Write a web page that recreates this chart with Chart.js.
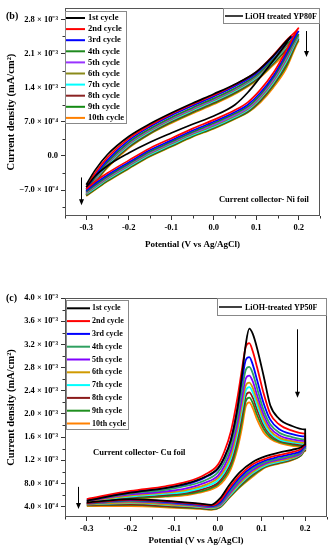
<!DOCTYPE html>
<html>
<head>
<meta charset="utf-8">
<script src="https://cdn.jsdelivr.net/npm/chart.js@4.4.1/dist/chart.umd.min.js"></script>
<style>
  body { margin: 0; background: #fff; }
  canvas { display: block; }
</style>
</head>
<body>
<canvas id="chartB" width="335" height="280"></canvas>
<canvas id="chartC" width="335" height="270"></canvas>
<script>
// ---- data (current in units of 1e-4 mA/cm2) ----
const cycleNames = ['1st cycle', '2nd cycle', '3rd cycle', '4th cycle', '5th cycle',
                    '6th cycle', '7th cycle', '8th cycle', '9th cycle', '10th cycle'];
const colorsB = ['#000000', '#ff0000', '#0000ff', '#1f8a1f', '#9933ff',
                 '#8a8a1a', '#00ffff', '#8b2323', '#138a13', '#ff8000'];
const colorsC = ['#000000', '#ff0000', '#0000ff', '#2fa060', '#8000ff',
                 '#d09a00', '#00ffff', '#8b1a1a', '#1f8f1f', '#ff8000'];

const xTicks = [-0.3, -0.2, -0.1, 0, 0.1, 0.2];
const xLabels = ['-0.3', '-0.2', '-0.1', '0.0', '0.1', '0.2'];
const xMinor = [-0.35, -0.25, -0.15, -0.05, 0.05, 0.15, 0.25];

// panel (b): Ni foil
const sampleNameB = 'LiOH treated YP80F';
const potUpB = [-0.3, -0.28, -0.25, -0.2, -0.15, -0.1, -0.05, 0, 0.05, 0.1, 0.14, 0.17, 0.2];
const potDownB = [0.17, 0.14, 0.11, 0.08, 0.05, 0, -0.05, -0.1, -0.15, -0.2, -0.25, -0.28, -0.3];
const vertexB = [0.182, 0.2, 0.2, 0.2, 0.2, 0.2, 0.2, 0.2, 0.2, 0.2];
const curUpB = [
  [-5.9, -3.0, 0.3, 4.0, 6.6, 8.8, 10.8, 12.7, 14.7, 17.2, 20.5, 23.5, 24.6],
  [-6.4, -3.6, -0.3, 3.6, 6.3, 8.6, 10.6, 12.5, 14.6, 17.2, 20.6, 23.6, 26.3],
  [-6.8, -4.1, -0.8, 3.2, 6.0, 8.3, 10.3, 12.2, 14.3, 16.9, 20.3, 23.3, 25.6],
  [-7.1, -4.5, -1.2, 2.8, 5.6, 7.9, 9.9, 11.8, 13.9, 16.5, 19.8, 22.8, 25.0],
  [-7.3, -4.7, -1.4, 2.6, 5.4, 7.7, 9.7, 11.6, 13.7, 16.4, 19.7, 22.7, 24.9],
  [-7.5, -4.9, -1.6, 2.4, 5.2, 7.5, 9.5, 11.4, 13.5, 16.2, 19.5, 22.4, 24.7],
  [-7.7, -5.1, -1.8, 2.2, 5.0, 7.3, 9.3, 11.2, 13.3, 16.0, 19.3, 22.2, 24.4],
  [-7.8, -5.3, -2.0, 2.0, 4.8, 7.1, 9.1, 11.0, 13.1, 15.8, 19.1, 21.9, 24.1],
  [-8.0, -5.5, -2.2, 1.8, 4.6, 6.9, 8.9, 10.8, 12.9, 15.6, 18.9, 21.6, 23.9],
  [-8.1, -5.6, -2.4, 1.6, 4.5, 6.7, 8.7, 10.6, 12.7, 15.4, 18.6, 21.0, 23.6]
];
const curDownB = [
  [23.0, 19.5, 16.2, 13.0, 10.5, 8.2, 6.5, 4.7, 2.8, 0.6, -2.0, -4.2, -6.4],
  [21.5, 17.0, 13.6, 11.0, 9.4, 7.4, 5.6, 3.6, 1.6, -0.9, -3.5, -5.3, -6.8],
  [20.9, 16.4, 13.0, 10.5, 9.0, 7.0, 5.2, 3.2, 1.2, -1.3, -3.9, -5.7, -7.1],
  [20.4, 16.0, 12.6, 10.1, 8.7, 6.7, 4.9, 2.9, 0.9, -1.6, -4.2, -6.0, -7.3],
  [20.0, 15.6, 12.3, 9.8, 8.4, 6.4, 4.7, 2.7, 0.7, -1.8, -4.4, -6.2, -7.5],
  [19.6, 15.3, 12.0, 9.6, 8.2, 6.2, 4.5, 2.5, 0.5, -2.0, -4.6, -6.4, -7.7],
  [19.2, 15.0, 11.8, 9.4, 8.0, 6.0, 4.3, 2.3, 0.3, -2.2, -4.8, -6.6, -7.8],
  [18.8, 14.7, 11.5, 9.2, 7.9, 5.9, 4.2, 2.2, 0.2, -2.3, -4.9, -6.7, -8.0],
  [18.3, 14.4, 11.3, 9.0, 7.7, 5.7, 4.0, 2.0, 0.0, -2.5, -5.1, -6.9, -8.1],
  [17.8, 14.0, 11.0, 8.9, 7.6, 5.6, 3.9, 1.9, -0.1, -2.6, -5.2, -7.0, -8.2]
];
const yTicksB = [-7, 0, 7, 14, 21, 28];
const yLabelsB = ['\u22127.0 \u00d7 10\u207b\u2074', '0.0', '7.0 \u00d7 10\u207b\u2074',
                  '1.4 \u00d7 10\u207b\u00b3', '2.1 \u00d7 10\u207b\u00b3', '2.8 \u00d7 10\u207b\u00b3'];
const yMinorB = [-10.5, -3.5, 3.5, 10.5, 17.5, 24.5];

// panel (c): Cu foil
const sampleNameC = 'LiOH-treated YP50F';
const potFwdC = [-0.3, -0.2, -0.1, -0.04, -0.015, 0.005, 0.025, 0.05, 0.08, 0.11, 0.14, 0.17, 0.19, 0.2];
const potRevC = [0.2, 0.17, 0.14, 0.12, 0.105, 0.09, 0.08, 0.072, 0.064, 0.055, 0.045, 0.03, 0.015, 0,
                 -0.03, -0.07, -0.12, -0.2, -0.3];
const curFwdC = [
  [4.7, 5.3, 4.9, 4.5, 4.3, 5.4, 7.6, 9.9, 11.7, 12.7, 13.3, 13.8, 14.2, 14.7],
  [4.6, 5.2, 4.8, 4.4, 4.2, 5.0, 7.1, 9.4, 11.3, 12.3, 12.9, 13.4, 13.9, 14.6],
  [4.6, 5.1, 4.7, 4.3, 4.1, 4.7, 6.7, 9.0, 10.9, 12.0, 12.6, 13.1, 13.6, 14.4],
  [4.5, 5.0, 4.6, 4.2, 4.0, 4.5, 6.4, 8.6, 10.6, 11.7, 12.3, 12.8, 13.4, 14.2],
  [4.5, 4.9, 4.5, 4.1, 3.9, 4.3, 6.1, 8.3, 10.3, 11.5, 12.1, 12.6, 13.2, 14.1],
  [4.4, 4.7, 4.3, 4.0, 3.8, 4.2, 5.9, 8.0, 10.0, 11.3, 11.9, 12.4, 13.1, 14.0],
  [4.4, 4.6, 4.2, 3.9, 3.7, 4.1, 5.7, 7.8, 9.8, 11.1, 11.7, 12.3, 13.0, 13.9],
  [4.3, 4.4, 4.0, 3.8, 3.6, 4.0, 5.6, 7.6, 9.6, 11.0, 11.6, 12.2, 12.9, 13.8],
  [4.2, 4.3, 3.9, 3.7, 3.5, 3.9, 5.5, 7.4, 9.4, 10.9, 11.5, 12.1, 12.8, 13.7],
  [4.1, 4.1, 3.8, 3.6, 3.45, 3.9, 5.4, 7.3, 9.2, 10.8, 11.4, 12.0, 12.8, 13.6]
];
const curRevC = [
  [17.3, 17.9, 19.2, 21.5, 26.5, 31.3, 33.8, 34.7, 32.0, 26.5, 21.0, 15.5, 12.5, 10.6, 9.1, 8.0, 7.2, 6.4, 5.0],
  [16.6, 17.1, 18.2, 20.0, 23.5, 28.0, 30.8, 32.2, 31.6, 27.6, 22.8, 17.0, 13.5, 11.2, 9.5, 8.3, 7.5, 6.7, 5.3],
  [16.1, 16.5, 17.4, 19.0, 21.8, 25.8, 28.5, 29.8, 29.3, 25.6, 21.0, 15.6, 12.5, 10.5, 9.0, 7.9, 7.2, 6.5, 5.2],
  [15.6, 16.0, 16.8, 18.2, 20.6, 24.4, 27.0, 28.1, 27.6, 24.0, 19.6, 14.6, 11.7, 9.9, 8.5, 7.6, 6.9, 6.3, 5.1],
  [15.3, 15.6, 16.3, 17.6, 19.8, 23.2, 25.6, 26.6, 26.1, 22.6, 18.4, 13.7, 11.0, 9.3, 8.1, 7.2, 6.6, 6.1, 5.0],
  [15.0, 15.3, 15.9, 17.1, 19.1, 22.3, 24.5, 25.4, 24.9, 21.5, 17.4, 12.9, 10.4, 8.9, 7.7, 6.9, 6.4, 5.9, 4.9],
  [14.8, 15.1, 15.6, 16.7, 18.5, 21.5, 23.7, 24.6, 24.0, 20.6, 16.6, 12.3, 9.9, 8.5, 7.4, 6.6, 6.2, 5.7, 4.8],
  [14.6, 14.9, 15.4, 16.4, 18.0, 20.7, 22.8, 23.7, 23.1, 19.6, 15.7, 11.6, 9.5, 8.1, 7.1, 6.4, 6.0, 5.6, 4.7],
  [14.4, 14.7, 15.2, 16.0, 17.4, 19.8, 21.9, 22.8, 22.2, 18.6, 14.8, 11.0, 9.0, 7.8, 6.8, 6.2, 5.8, 5.4, 4.6],
  [14.3, 14.5, 15.0, 15.7, 16.8, 19.0, 21.0, 22.0, 21.3, 17.5, 14.0, 10.5, 8.6, 7.5, 6.6, 6.0, 5.7, 5.3, 4.5]
];
const yTicksC = [4, 8, 12, 16, 20, 24, 28, 32, 36, 40];
const yLabelsC = ['4.0 \u00d7 10\u207b\u2074', '8.0 \u00d7 10\u207b\u2074', '1.2 \u00d7 10\u207b\u00b3',
                  '1.6 \u00d7 10\u207b\u00b3', '2.0 \u00d7 10\u207b\u00b3', '2.4 \u00d7 10\u207b\u00b3',
                  '2.8 \u00d7 10\u207b\u00b3', '3.2 \u00d7 10\u207b\u00b3', '3.6 \u00d7 10\u207b\u00b3',
                  '4.0 \u00d7 10\u207b\u00b3'];
const yMinorC = [6, 10, 14, 18, 22, 26, 30, 34, 38];

// ---- chart setup ----
const FONT = '"Liberation Serif", "Times New Roman", serif';
Chart.defaults.font.family = FONT;
Chart.defaults.font.weight = 'bold';
Chart.defaults.color = '#000';

function line(ctx, x0, y0, x1, y1) {
  ctx.beginPath(); ctx.moveTo(x0, y0); ctx.lineTo(x1, y1); ctx.stroke();
}

// frame, minor ticks, legend boxes, arrows and notes
const decorations = {
  id: 'decorations',
  afterDatasetsDraw(chart, args, o) {
    const {ctx, chartArea: a, scales: {x, y}} = chart;
    ctx.save();
    ctx.strokeStyle = '#555';
    ctx.lineWidth = 1;
    ctx.strokeRect(Math.round(a.left) + 0.5, Math.round(a.top) + 0.5,
                   Math.round(a.right - a.left) - 1, Math.round(a.bottom - a.top) - 1);
    ctx.strokeStyle = '#333';
    o.xMinor.forEach(v => {
      const px = Math.round(x.getPixelForValue(v)) + 0.5;
      line(ctx, px, a.bottom, px, a.bottom + 2.5);
    });
    o.yMinor.forEach(v => {
      const py = Math.round(y.getPixelForValue(v)) + 0.5;
      line(ctx, a.left - 2.5, py, a.left, py);
    });

    // cycle legend
    const L = o.legend;
    const bx = Math.round(a.left) + L.dx, by = Math.round(a.top) + L.dy;
    ctx.fillStyle = '#fff';
    ctx.fillRect(bx, by, L.w, L.h);
    ctx.strokeStyle = '#888';
    ctx.strokeRect(bx + 0.5, by + 0.5, L.w, L.h);
    ctx.font = 'bold ' + L.size + 'px ' + FONT;
    ctx.textBaseline = 'middle';
    ctx.textAlign = 'left';
    chart.data.datasets.forEach((ds, i) => {
      const ry = by + L.first + i * L.row;
      ctx.strokeStyle = ds.borderColor;
      ctx.lineWidth = 2;
      line(ctx, bx + 1, ry, bx + 1 + L.len, ry);
      ctx.fillStyle = '#000';
      ctx.fillText(ds.label, bx + L.textX, ry);
    });

    // sample legend
    const S = o.sample;
    const sx = Math.round(a.right) - S.w, sy = Math.round(a.top) + S.dy;
    ctx.fillStyle = '#fff';
    ctx.fillRect(sx, sy, S.w, S.h);
    ctx.strokeStyle = '#888';
    ctx.lineWidth = 1;
    ctx.strokeRect(sx + 0.5, sy + 0.5, S.w - 1, S.h);
    ctx.strokeStyle = '#000';
    ctx.lineWidth = 1.5;
    line(ctx, sx + 2, sy + S.h / 2 + 0.5, sx + 2 + S.len, sy + S.h / 2 + 0.5);
    ctx.fillStyle = '#000';
    ctx.font = 'bold ' + S.size + 'px ' + FONT;
    ctx.fillText(S.text, sx + S.textX, sy + S.h / 2 + 1);

    // arrows
    ctx.strokeStyle = '#000';
    ctx.fillStyle = '#000';
    ctx.lineWidth = 1;
    o.arrows.forEach(ar => {
      const px = Math.round(x.getPixelForValue(ar.x)) + 0.5;
      const p0 = y.getPixelForValue(ar.from), p1 = y.getPixelForValue(ar.to);
      line(ctx, px, p0, px, p1 - 5);
      ctx.beginPath();
      ctx.moveTo(px - 2.5, p1 - 6); ctx.lineTo(px + 2.5, p1 - 6); ctx.lineTo(px, p1);
      ctx.closePath(); ctx.fill();
    });

    // note
    ctx.font = 'bold ' + o.note.size + 'px ' + FONT;
    ctx.textAlign = 'center';
    ctx.fillText(o.note.text, x.getPixelForValue(o.note.x), y.getPixelForValue(o.note.y));

    // panel tag
    ctx.textAlign = 'left';
    ctx.font = 'bold 10px ' + FONT;
    ctx.fillText(o.tag.text, o.tag.x, o.tag.y);
    ctx.restore();
  }
};

function makeScales(p) {
  return {
    x: {
      type: 'linear', min: -0.35, max: 0.25,
      afterBuildTicks: s => { s.ticks = xTicks.map(v => ({value: v})); },
      afterFit: s => { s.height = p.xHeight; },
      ticks: { callback: (v, i) => xLabels[i], font: {size: 8.5}, padding: 3,
               maxRotation: 0, autoSkip: false },
      grid: { drawOnChartArea: false, drawTicks: true, tickLength: 4, tickColor: '#333' },
      border: { display: false },
      title: { display: true, text: 'Potential (V vs Ag/AgCl)', font: {size: 9},
               padding: {top: 0, bottom: p.titlePad} }
    },
    y: {
      type: 'linear', min: p.yMin, max: p.yMax,
      afterBuildTicks: s => { s.ticks = p.yTicks.map(v => ({value: v})); },
      afterFit: s => { s.width = 65; },
      ticks: { callback: (v, i) => p.yLabels[i], font: {size: 8.5}, padding: 3, autoSkip: false },
      grid: { drawOnChartArea: false, drawTicks: true, tickLength: 4, tickColor: '#333' },
      border: { display: false },
      title: { display: true, text: 'Current density (mA/cm\u00b2)', font: {size: 10.5},
               padding: {top: 5, bottom: 0} }
    }
  };
}

const datasetsB = cycleNames.map((name, i) => ({
  label: name,
  data: potUpB.map((p, k) => ({x: k === potUpB.length - 1 ? vertexB[i] : p, y: curUpB[i][k]}))
    .concat(potDownB.map((p, k) => ({x: p, y: curDownB[i][k]}))),
  borderColor: colorsB[i],
  borderWidth: 1.7,
  pointRadius: 0,
  cubicInterpolationMode: 'monotone',
  fill: false
}));

const datasetsC = cycleNames.map((name, i) => ({
  label: name,
  data: potFwdC.map((p, k) => ({x: p, y: curFwdC[i][k]}))
    .concat(potRevC.map((p, k) => ({x: p, y: curRevC[i][k]}))),
  borderColor: colorsC[i],
  borderWidth: 1.8,
  pointRadius: 0,
  cubicInterpolationMode: 'monotone',
  fill: false
}));

new Chart(document.getElementById('chartB'), {
  type: 'line',
  data: { datasets: datasetsB },
  options: {
    responsive: false,
    animation: false,
    layout: { padding: {top: 4, right: 15, left: 0, bottom: 0} },
    scales: makeScales({xHeight: 64, titlePad: 29.6, yMin: -12.3, yMax: 30.3,
                        yTicks: yTicksB, yLabels: yLabelsB}),
    plugins: {
      legend: { display: false },
      tooltip: { enabled: false },
      decorations: {
        xMinor: xMinor, yMinor: yMinorB,
        legend: {dx: 0, dy: 3, w: 61, h: 112, first: 7, row: 11.1, len: 19, textX: 23, size: 8.5},
        sample: {dy: 0, w: 97, h: 15, len: 18, textX: 22, size: 8, text: sampleNameB},
        arrows: [{x: -0.312, from: -4.4, to: -10.1}, {x: 0.218, from: 25.6, to: 20.3}],
        note: {text: 'Current collector- Ni foil', x: 0.118, y: -8.9, size: 8.5},
        tag: {text: '(b)', x: 6, y: 16}
      }
    }
  },
  plugins: [decorations]
});

new Chart(document.getElementById('chartC'), {
  type: 'line',
  data: { datasets: datasetsC },
  options: {
    responsive: false,
    animation: false,
    layout: { padding: {top: 18, right: 8, left: 0, bottom: 0} },
    scales: makeScales({xHeight: 33, titlePad: 3.6, yMin: 2.2, yMax: 40,
                        yTicks: yTicksC, yLabels: yLabelsC}),
    plugins: {
      legend: { display: false },
      tooltip: { enabled: false },
      decorations: {
        xMinor: xMinor, yMinor: yMinorC,
        legend: {dx: 1, dy: 2, w: 62, h: 129, first: 8.3, row: 12.8, len: 23, textX: 26, size: 8},
        sample: {dy: 0, w: 110, h: 17, len: 23, textX: 28, size: 8, text: sampleNameC},
        arrows: [{x: -0.321, from: 7.4, to: 3.6}, {x: 0.181, from: 34.6, to: 22.8}],
        note: {text: 'Current collector- Cu foil', x: -0.18, y: 13.2, size: 8.5},
        tag: {text: '(c)', x: 6, y: 18}
      }
    }
  },
  plugins: [decorations]
});
</script>
</body>
</html>
